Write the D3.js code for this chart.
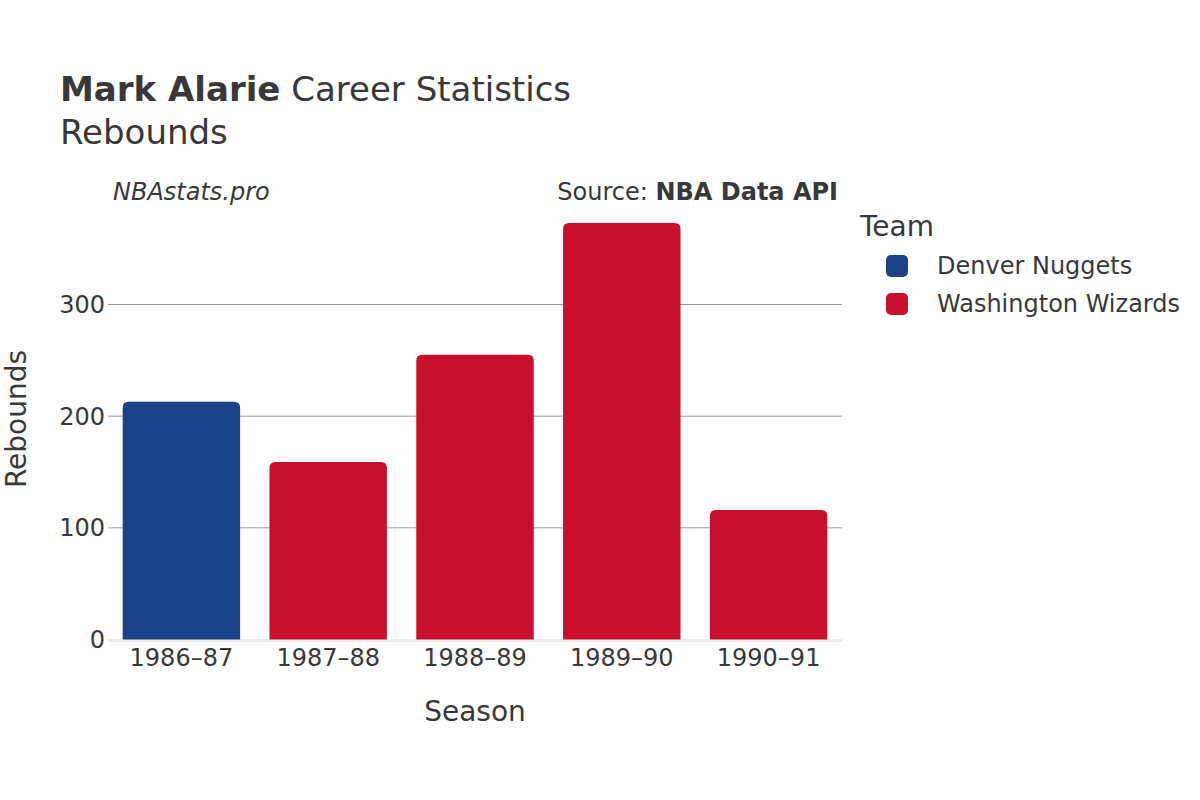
<!DOCTYPE html>
<html><head><meta charset="utf-8">
<script src="https://cdn.jsdelivr.net/npm/d3@7"></script>
<style>body{margin:0;background:#fff}svg{display:block;font-family:"DejaVu Sans",sans-serif}</style>
</head><body>
<svg id="c" width="1200" height="800"></svg>
<script>
const seasons = ["1986–87","1987–88","1988–89","1989–90","1990–91"];
const teams = ["Denver Nuggets","Washington Wizards","Washington Wizards","Washington Wizards","Washington Wizards"];
const rebounds = [213, 159, 255, 373, 116];
const legendTeams = ["Denver Nuggets","Washington Wizards"];
const teamColors = ["#1b4188","#c8102e"];
const yTicks = [0,100,200,300];

const svg = d3.select("#c");
const txt = "#383838";
const x = d3.scaleBand().domain(seasons).range([108, 842]).paddingInner(0.2).paddingOuter(0.1);
const y = d3.scaleLinear().domain([0, 300]).range([639.5, 304.5]);
const color = d3.scaleOrdinal().domain(legendTeams).range(teamColors);

// gridlines
svg.append("g").selectAll("line").data(yTicks.filter(d=>d>0)).join("line")
  .attr("x1",108).attr("x2",842).attr("y1",d=>y(d)).attr("y2",d=>y(d))
  .attr("stroke","#9a9a9a").attr("stroke-width",1);

// y tick labels
svg.append("g").selectAll("text").data(yTicks).join("text")
  .attr("x",105).attr("y",d=>y(d)).attr("dy","0.35em").attr("text-anchor","end")
  .attr("font-size",24).attr("fill",txt).text(d=>d);

// baseline
svg.append("line").attr("x1",108).attr("x2",842).attr("y1",y(0)+1).attr("y2",y(0)+1)
  .attr("stroke","#ebebeb").attr("stroke-width",3);

// bars with rounded top corners
const r = 6;
function barPath(x0,w,yt,yb){
  return `M${x0},${yb}V${yt+r}Q${x0},${yt} ${x0+r},${yt}H${x0+w-r}Q${x0+w},${yt} ${x0+w},${yt+r}V${yb}Z`;
}
svg.append("g").selectAll("path").data(seasons).join("path")
  .attr("d",(s,i)=>barPath(x(s), x.bandwidth(), y(rebounds[i]), y(0)))
  .attr("fill",(s,i)=>color(teams[i]));

// x labels
svg.append("g").selectAll("text").data(seasons).join("text")
  .attr("x",s=>x(s)+x.bandwidth()/2).attr("y",666).attr("text-anchor","middle")
  .attr("font-size",24).attr("fill",txt).text(s=>s);

// axis titles
svg.append("text").attr("x",475).attr("y",721).attr("text-anchor","middle")
  .attr("font-size",28).attr("fill",txt).text("Season");
svg.append("text").attr("transform","translate(26,419) rotate(-90)").attr("text-anchor","middle")
  .attr("font-size",28).attr("fill",txt).text("Rebounds");

// title
const t = svg.append("text").attr("x",60).attr("y",101).attr("font-size",34).attr("fill",txt);
t.append("tspan").attr("font-weight","bold").text("Mark Alarie");
t.append("tspan").text(" Career Statistics");
svg.append("text").attr("x",60).attr("y",144).attr("font-size",34).attr("fill",txt).text("Rebounds");

svg.append("text").attr("x",113).attr("y",200).attr("font-size",24).attr("font-style","italic")
  .attr("fill",txt).text("NBAstats.pro");
const src = svg.append("text").attr("x",838).attr("y",200).attr("font-size",24).attr("text-anchor","end").attr("fill",txt);
src.append("tspan").text("Source: ");
src.append("tspan").attr("font-weight","bold").text("NBA Data API");

// legend
svg.append("text").attr("x",860).attr("y",236).attr("font-size",28).attr("fill",txt).text("Team");
const lg = svg.append("g").selectAll("g").data(legendTeams).join("g")
  .attr("transform",(d,i)=>`translate(886,${255+i*38})`);
lg.append("rect").attr("width",22).attr("height",22).attr("rx",5).attr("fill",d=>color(d));
lg.append("text").attr("x",51).attr("y",11).attr("dy","0.35em").attr("font-size",24).attr("fill",txt).text(d=>d);
</script>
</body></html>
